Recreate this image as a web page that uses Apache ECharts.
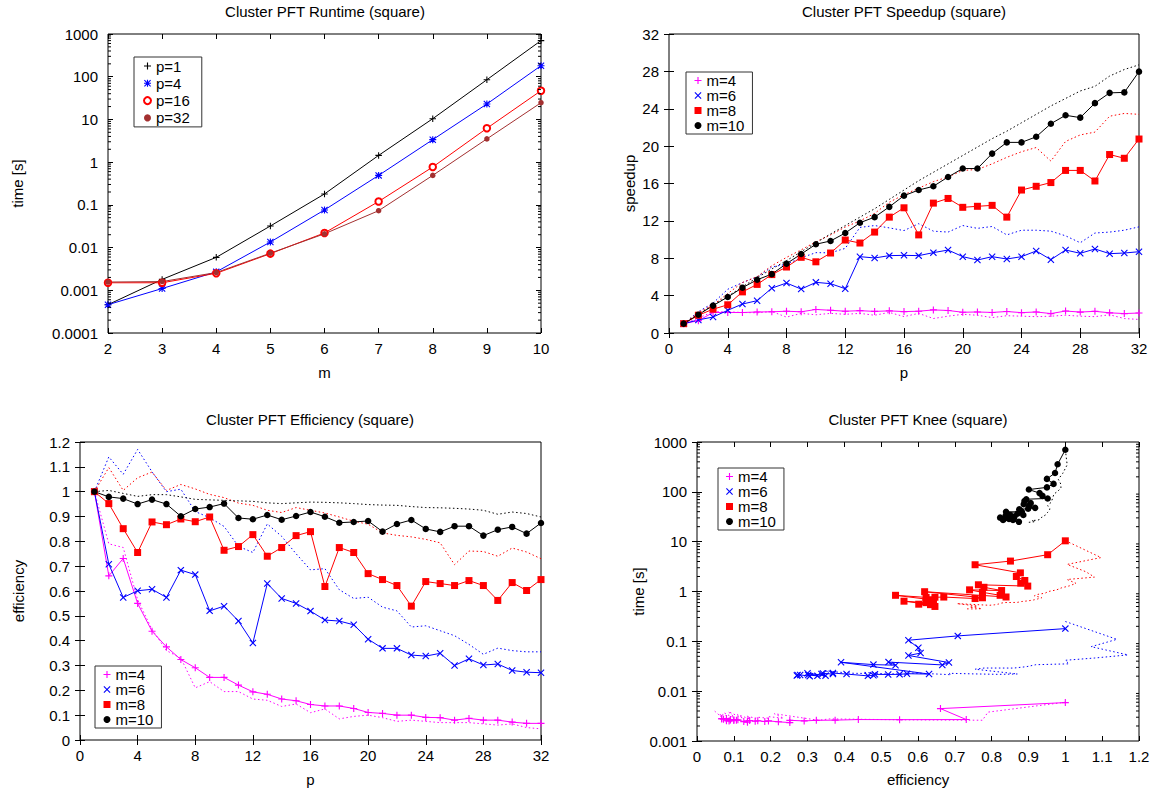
<!DOCTYPE html>
<html><head><meta charset="utf-8">
<script src="https://cdn.jsdelivr.net/npm/echarts@6/dist/echarts.min.js"></script>
<style>html,body{margin:0;padding:0;background:#fff}#c{width:1156px;height:793px}</style>
</head><body><div id="c"></div>
<script>
// ---------------- DATA ----------------
const M_VALUES = [2, 3, 4, 5, 6, 7, 8, 9, 10];
const RUNTIME_P1  = [0.00046, 0.0018, 0.0059, 0.032, 0.18, 1.44, 10.4, 85, 700];
const RUNTIME_P4  = [0.00046, 0.0011, 0.0027, 0.0135, 0.076, 0.49, 3.36, 23, 181];
const RUNTIME_P16 = [0.0015, 0.0015, 0.0025, 0.0072, 0.022, 0.12, 0.77, 6.2, 47];
const RUNTIME_P32 = [0.00156, 0.0016, 0.0026, 0.0074, 0.021, 0.073, 0.49, 3.5, 24.6];
const P_LABELS = ['p=1', 'p=4', 'p=16', 'p=32'];

const P_VALUES = [1,2,3,4,5,6,7,8,9,10,11,12,13,14,15,16,17,18,19,20,21,22,23,24,25,26,27,28,29,30,31,32];
const M_LABELS = ['m=4', 'm=6', 'm=8', 'm=10'];

const SPEEDUP_M4  = [1.0,1.32,2.19,2.2,2.19,2.25,2.27,2.33,2.27,2.52,2.43,2.33,2.39,2.31,2.37,2.29,2.33,2.47,2.41,2.22,2.25,2.2,2.3,2.18,2.25,2.08,2.35,2.24,2.32,2.16,2.08,2.14];
const SPEEDUP_M6  = [1.0,1.4,1.71,2.43,3.1,3.46,4.8,5.35,4.7,5.42,5.28,4.74,8.17,8.03,8.28,8.31,8.28,8.6,8.88,8.17,7.81,8.17,7.92,8.17,8.78,7.85,8.88,8.53,8.99,8.49,8.56,8.7];
const SPEEDUP_M8  = [1.0,1.9,2.55,3.02,4.4,5.2,6.25,7.06,8.1,7.62,8.56,9.95,9.63,10.8,12.4,13.4,10.5,13.9,14.4,13.45,13.56,13.66,12.4,15.3,15.7,16.1,17.4,17.4,16.27,19.1,18.7,20.76];
const SPEEDUP_M10 = [1.0,1.96,2.93,3.85,4.85,5.7,6.3,7.42,8.45,9.5,9.85,10.7,11.8,12.4,13.5,14.7,15.3,15.7,16.7,17.6,17.6,19.2,20.4,20.4,21.0,22.4,23.3,23.05,24.6,25.7,25.75,27.97];

const SPEEDUP_DOT_M4  = [1.0,1.58,2.3,2.26,2.2,2.16,2.3,1.7,2.1,1.95,2.1,2.0,2.1,1.9,2.2,1.76,2.1,1.55,1.8,2.0,1.9,1.65,1.85,1.8,1.75,1.8,1.9,1.8,1.75,1.95,1.55,1.45];
const SPEEDUP_DOT_M6  = [1.0,2.28,3.2,4.68,5.4,6.0,7.07,7.36,8.05,8.6,8.58,9.06,11.3,11.5,11.25,10.96,11.7,10.9,10.8,11.5,11.2,11.4,10.5,11.0,11.0,10.9,10.4,9.66,10.7,10.8,11.0,11.36];
const SPEEDUP_DOT_M8  = [1.0,2.19,3.0,4.22,5.4,6.03,7.2,8.09,8.9,9.76,10.5,11.34,12.0,12.8,14.0,14.8,15.5,16.2,16.7,17.4,17.5,18.1,18.8,19.4,19.85,18.4,20.5,21.2,21.5,23.2,23.5,23.4];
const SPEEDUP_DOT_M10 = [1.0,2.01,2.98,3.92,4.94,5.93,6.85,7.75,8.7,9.65,10.6,11.5,12.4,13.3,14.3,15.3,16.3,17.2,18.1,19.0,19.9,20.8,21.6,22.5,23.4,24.3,25.1,25.9,26.4,27.5,28.2,28.7];

const EFF_M4  = [1.0,0.661,0.731,0.550,0.438,0.375,0.324,0.291,0.252,0.252,0.221,0.194,0.184,0.165,0.158,0.143,0.137,0.137,0.127,0.111,0.107,0.100,0.100,0.091,0.090,0.080,0.087,0.080,0.080,0.072,0.067,0.067];
const EFF_M6  = [1.0,0.708,0.574,0.601,0.607,0.574,0.684,0.666,0.520,0.539,0.479,0.391,0.630,0.570,0.550,0.519,0.483,0.479,0.464,0.406,0.369,0.369,0.342,0.338,0.349,0.300,0.327,0.302,0.306,0.280,0.273,0.271];
const EFF_M8  = [1.0,0.952,0.851,0.755,0.878,0.867,0.890,0.879,0.898,0.764,0.779,0.827,0.740,0.775,0.823,0.839,0.618,0.775,0.755,0.670,0.646,0.622,0.539,0.638,0.630,0.622,0.642,0.622,0.562,0.634,0.602,0.646];
const EFF_M10 = [1.0,0.979,0.972,0.950,0.968,0.950,0.901,0.930,0.938,0.952,0.894,0.889,0.906,0.887,0.902,0.918,0.899,0.875,0.878,0.882,0.839,0.870,0.886,0.850,0.838,0.861,0.861,0.823,0.847,0.858,0.831,0.874];

const EFF_DOT_M4  = [1.0,0.79,0.775,0.565,0.445,0.36,0.33,0.21,0.235,0.195,0.195,0.165,0.16,0.135,0.145,0.11,0.125,0.085,0.095,0.1,0.09,0.075,0.08,0.075,0.07,0.07,0.07,0.065,0.06,0.065,0.05,0.045];
const EFF_DOT_M6  = [1.0,1.14,1.07,1.17,1.08,1.0,1.01,0.92,0.895,0.86,0.78,0.755,0.87,0.82,0.75,0.685,0.69,0.605,0.57,0.575,0.535,0.52,0.455,0.46,0.44,0.42,0.385,0.345,0.37,0.36,0.355,0.355];
const EFF_DOT_M8  = [1.0,1.097,1.005,1.056,1.079,1.005,1.029,1.011,0.989,0.976,0.954,0.945,0.925,0.916,0.936,0.925,0.914,0.898,0.881,0.869,0.834,0.824,0.818,0.808,0.794,0.706,0.761,0.759,0.740,0.773,0.757,0.730];
const EFF_DOT_M10 = [1.0,1.005,0.993,0.981,0.988,0.988,0.979,0.969,0.967,0.965,0.963,0.961,0.955,0.952,0.955,0.958,0.957,0.955,0.952,0.948,0.946,0.945,0.94,0.936,0.935,0.933,0.93,0.925,0.909,0.918,0.912,0.898];

// single-processor runtime of the m=4,6,8,10 runs (solid = RUNTIME_P1 values; dotted = second run)
const T1_SOLID  = [0.0059, 0.18, 10.4, 700];
const T1_DOTTED = [0.006, 0.25, 10.5, 700];

const TITLES = ['Cluster PFT Runtime (square)', 'Cluster PFT Speedup (square)', 'Cluster PFT Efficiency (square)', 'Cluster PFT Knee (square)'];

// ---------------- STYLE ----------------
const FONT = '"Liberation Sans", Arial, Helvetica, sans-serif';
const PLUS = 'path://M4.2,0H5.8V4.2H10V5.8H5.8V10H4.2V5.8H0V4.2H4.2Z';
const CROSS = 'path://M0,1.1L1.1,0L5,3.9L8.9,0L10,1.1L6.1,5L10,8.9L8.9,10L5,6.1L1.1,10L0,8.9L3.9,5Z';
const STAR = 'path://M4.2,0H5.8V4.2H10V5.8H5.8V10H4.2V5.8H0V4.2H4.2Z M0,1.1L1.1,0L5,3.9L8.9,0L10,1.1L6.1,5L10,8.9L8.9,10L5,6.1L1.1,10L0,8.9L3.9,5Z';

const COLORS_P = ['#000000', '#0000ff', '#ff0000', '#a33030'];
const SYMS_P = [PLUS, STAR, 'emptyCircle', 'circle'];
const SIZES_P = [6.5, 7, 6.5, 5.5];
const COLORS_M = ['#ff00ff', '#0000ff', '#ff0000', '#000000'];
const SYMS_M = [PLUS, CROSS, 'rect', 'circle'];
const SIZES_M = [7, 7, 7, 6.5];

const SPEEDUP = [SPEEDUP_M4, SPEEDUP_M6, SPEEDUP_M8, SPEEDUP_M10];
const SPEEDUP_DOT = [SPEEDUP_DOT_M4, SPEEDUP_DOT_M6, SPEEDUP_DOT_M8, SPEEDUP_DOT_M10];
const EFF = [EFF_M4, EFF_M6, EFF_M8, EFF_M10];
const EFF_DOT = [EFF_DOT_M4, EFF_DOT_M6, EFF_DOT_M8, EFF_DOT_M10];
const RUNTIME = [RUNTIME_P1, RUNTIME_P4, RUNTIME_P16, RUNTIME_P32];

const TXT = { fontSize: 15, color: '#000', fontFamily: FONT };
const logFmt = v => { const e = Math.round(Math.log10(v)); return e >= 0 ? String(Math.pow(10, e)) : '0.' + '0'.repeat(-e - 1) + '1'; };
const decFmt = v => String(Math.round(v * 10) / 10);

function axisPair(dim, gi, o) {
  const base = { gridIndex: gi, type: o.type || 'value', min: o.min, max: o.max,
    splitLine: { show: false }, axisLine: { show: false },
    axisTick: { show: true, inside: true, length: 5, lineStyle: { color: '#000', width: 1 } },
    minorTick: { show: false } };
  if (o.interval !== undefined) base.interval = o.interval;
  if (o.type === 'log') base.logBase = 10;
  const main = Object.assign({}, base, {
    position: dim === 'x' ? 'bottom' : 'left',
    name: o.name, nameLocation: 'middle', nameGap: o.nameGap, nameTextStyle: TXT,
    axisLabel: Object.assign({ show: true, margin: dim === 'x' ? 8 : 10, formatter: o.fmt, hideOverlap: false }, TXT)
  });
  const mirror = Object.assign({}, base, { position: dim === 'x' ? 'top' : 'right', axisLabel: { show: false } });
  return [main, mirror];
}

const grids = [
  { left: 108, top: 34, width: 433, height: 299 },
  { left: 669, top: 34, width: 470, height: 299 },
  { left: 80, top: 442, width: 461, height: 298 },
  { left: 697, top: 442, width: 442, height: 299 }
].map(g => Object.assign(g, { show: true, borderColor: '#000', borderWidth: 1, backgroundColor: 'transparent', containLabel: false, outerBoundsMode: 'none' }));

const xAxis = [].concat(
  axisPair('x', 0, { min: 2, max: 10, interval: 1, name: 'm', nameGap: 32 }),
  axisPair('x', 1, { min: 0, max: 32, interval: 4, name: 'p', nameGap: 32 }),
  axisPair('x', 2, { min: 0, max: 32, interval: 4, name: 'p', nameGap: 32 }),
  axisPair('x', 3, { min: 0, max: 1.2, interval: 0.1, name: 'efficiency', nameGap: 31, fmt: decFmt })
);
const yAxis = [].concat(
  axisPair('y', 0, { type: 'log', min: 0.0001, max: 1000, name: 'time [s]', nameGap: 83, fmt: logFmt }),
  axisPair('y', 1, { min: 0, max: 32, interval: 4, name: 'speedup', nameGap: 32 }),
  axisPair('y', 2, { min: 0, max: 1.2, interval: 0.1, name: 'efficiency', nameGap: 54, fmt: decFmt }),
  axisPair('y', 3, { type: 'log', min: 0.001, max: 1000, name: 'time [s]', nameGap: 36, fmt: logFmt })
);

function line(name, gi, data, color, symbol, size, dotted) {
  return {
    name, type: 'line', xAxisIndex: 2 * gi, yAxisIndex: 2 * gi, data,
    symbol: dotted ? 'none' : symbol, symbolSize: size, showSymbol: !dotted, showAllSymbol: true,
    itemStyle: { color, borderColor: color, borderWidth: symbol === 'emptyCircle' ? 1 : 0 },
    lineStyle: { color, width: 1, type: dotted ? [1.5, 2.5] : 'solid' },
    z: dotted ? 2 : 3, animation: false, emphasis: { disabled: true }, silent: true
  };
}

function minorLogTicks(gi, xmin, xmax, lo, hi) {
  const data = [];
  for (let e = lo; e < hi; e++) for (let k = 2; k <= 9; k++) data.push([xmin, k * Math.pow(10, e)]);
  return {
    type: 'custom', xAxisIndex: 2 * gi, yAxisIndex: 2 * gi, silent: true, clip: false, z: 5, animation: false,
    data,
    renderItem(params, api) {
      const v = api.value(1);
      const a = api.coord([xmin, v]), b = api.coord([xmax, v]);
      return { type: 'group', children: [
        { type: 'line', shape: { x1: a[0], y1: a[1], x2: a[0] + 3, y2: a[1] }, style: { stroke: '#000', lineWidth: 1 } },
        { type: 'line', shape: { x1: b[0], y1: b[1], x2: b[0] - 3, y2: b[1] }, style: { stroke: '#000', lineWidth: 1 } }
      ] };
    }
  };
}

const series = [];
// Panel 1: runtime
RUNTIME.forEach((arr, j) => series.push(line(P_LABELS[j], 0, M_VALUES.map((m, i) => [m, arr[i]]), COLORS_P[j], SYMS_P[j], SIZES_P[j], false)));
series.push(minorLogTicks(0, 2, 10, -4, 3));
// Panels 2-4
for (let j = 0; j < 4; j++) {
  const c = COLORS_M[j], s = SYMS_M[j], z = SIZES_M[j], n = M_LABELS[j];
  series.push(line(n + ' (run 2)', 1, P_VALUES.map((p, i) => [p, SPEEDUP_DOT[j][i]]), c, s, z, true));
  series.push(line(n + ' (run 2)', 2, P_VALUES.map((p, i) => [p, EFF_DOT[j][i]]), c, s, z, true));
  series.push(line(n + ' (run 2)', 3, P_VALUES.map((p, i) => [EFF_DOT[j][i], T1_DOTTED[j] / SPEEDUP_DOT[j][i]]), c, s, z, true));
}
for (let j = 0; j < 4; j++) {
  const c = COLORS_M[j], s = SYMS_M[j], z = SIZES_M[j], n = M_LABELS[j];
  series.push(line(n, 1, P_VALUES.map((p, i) => [p, SPEEDUP[j][i]]), c, s, z, false));
  series.push(line(n, 2, P_VALUES.map((p, i) => [p, EFF[j][i]]), c, s, z, false));
  series.push(line(n, 3, P_VALUES.map((p, i) => [EFF[j][i], T1_SOLID[j] / SPEEDUP[j][i]]), c, s, z, false));
}
series.push(minorLogTicks(3, 0, 1.2, -3, 3));

function legendBox(names, syms, left, top, padding, gap, textGap) {
  return {
    orient: 'vertical', left, top, padding, itemGap: gap, itemWidth: 7, itemHeight: 7, itemTextGap: textGap,
    borderColor: '#333', borderWidth: 1, selectedMode: false, backgroundColor: '#fff',
    textStyle: Object.assign({ lineHeight: 15 }, TXT),
    data: names.map((n, i) => ({ name: n, icon: syms[i] }))
  };
}

const legend = [
  legendBox(P_LABELS, SYMS_P, 134, 57, [1.5, 12, 1.5, 9], 2.3, 8),
  legendBox(M_LABELS, SYMS_M, 686, 72, [1, 8, 1, 8.5], 0, 8.5),
  legendBox(M_LABELS, SYMS_M, 95, 666, [1, 8, 1, 8.5], 0, 8.5),
  legendBox(M_LABELS, SYMS_M, 718, 468, [1, 8, 1, 8], 0, 8.5)
];

const titleCenters = [[325, 11], [904, 11], [310, 419], [918, 419]];
const graphic = TITLES.map((t, i) => ({
  type: 'text', x: titleCenters[i][0], y: titleCenters[i][1], silent: true,
  style: { text: t, font: '15px ' + FONT, fill: '#000', align: 'center', verticalAlign: 'middle', textAlign: 'center', textVerticalAlign: 'middle' }
}));

const chart = echarts.init(document.getElementById('c'), null, { renderer: 'svg', width: 1156, height: 793 });
chart.setOption({
  backgroundColor: '#fff', animation: false,
  grid: grids, xAxis, yAxis, series, legend, graphic,
  tooltip: { show: false }
});
</script></body></html>
